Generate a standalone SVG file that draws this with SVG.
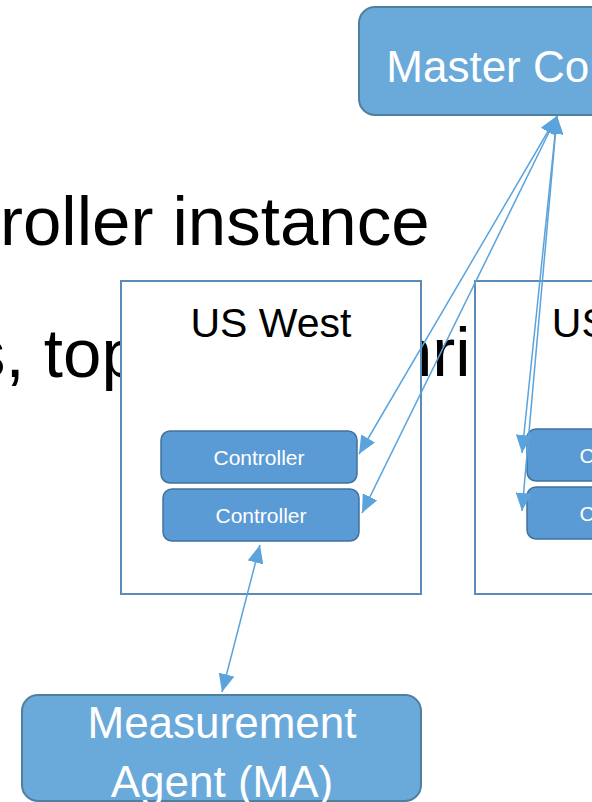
<svg xmlns="http://www.w3.org/2000/svg" width="592" height="802" viewBox="0 0 592 802">
  <style>
    .bg { font-family: "Liberation Sans", Arial, sans-serif; font-size: 69px; fill: #000000; }
    .region { fill: #ffffff; stroke: #5b8bb6; stroke-width: 2; }
    .regionLabel { font-family: "Liberation Sans", Arial, sans-serif; font-size: 41px; fill: #000000; text-anchor: middle; }
    .ctrl { fill: #5b9bd5; stroke: #41719c; stroke-width: 1.5; }
    .ctrlLabel { font-family: "Liberation Sans", Arial, sans-serif; font-size: 21px; fill: #ffffff; text-anchor: middle; }
    .big { fill: #6aaadb; stroke: #50809f; stroke-width: 2; }
    .bigLabel { font-family: "Liberation Sans", Arial, sans-serif; font-size: 44px; fill: #ffffff; text-anchor: middle; }
    .conn { fill: none; stroke: #5ba3dc; stroke-width: 1.5; marker-start: url(#arrow); marker-end: url(#arrow); }
  </style>
  <defs>
    <marker id="arrow" viewBox="0 0 18 16" refX="18" refY="8" markerWidth="18" markerHeight="16" markerUnits="userSpaceOnUse" orient="auto-start-reverse">
      <path d="M0,0 L18,8 L0,16 z" fill="#5ba3dc"/>
    </marker>
    <clipPath id="clipRi">
      <rect x="422" y="300" width="52" height="100"/>
    </clipPath>
  </defs>
  <rect x="0" y="0" width="592" height="802" fill="#ffffff"/>

  <g id="background-text">
    <text class="bg" x="0" y="245">roller instance</text>
    <text class="bg" x="-29" y="377">s, top</text>
    <text class="bg" x="394" y="376" clip-path="url(#clipRi)">nri</text>
  </g>

  <g id="us-west">
    <rect class="region" x="121" y="281" width="300" height="313"/>
    <text class="regionLabel" x="271" y="337">US West</text>
  </g>
  <g id="us-east">
    <rect class="region" x="475" y="281" width="300" height="313"/>
    <text class="regionLabel" x="627" y="337">US East</text>
  </g>

  <g id="west-controller-1">
    <rect class="ctrl" x="161" y="431" width="196" height="52" rx="9"/>
    <text class="ctrlLabel" x="259" y="465">Controller</text>
  </g>
  <g id="west-controller-2">
    <rect class="ctrl" x="163" y="489" width="196" height="52" rx="9"/>
    <text class="ctrlLabel" x="261" y="523">Controller</text>
  </g>
  <g id="east-controller-1">
    <rect class="ctrl" x="527" y="429" width="196" height="52" rx="9"/>
    <text class="ctrlLabel" x="625" y="463">Controller</text>
  </g>
  <g id="east-controller-2">
    <rect class="ctrl" x="527" y="487" width="196" height="52" rx="9"/>
    <text class="ctrlLabel" x="625" y="521">Controller</text>
  </g>

  <g id="master-controller">
    <rect class="big" x="359" y="7" width="397" height="108" rx="16"/>
    <text class="bigLabel" x="555" y="82">Master Controller</text>
  </g>

  <g id="measurement-agent">
    <rect class="big" x="22" y="695" width="399" height="106" rx="16"/>
    <text class="bigLabel" x="222" y="738">Measurement</text>
    <text class="bigLabel" x="222" y="797">Agent (MA)</text>
  </g>

  <g id="connectors">
    <line class="conn" x1="557" y1="116" x2="359" y2="454"/>
    <line class="conn" x1="557" y1="116" x2="362" y2="513"/>
    <line class="conn" x1="557" y1="116" x2="522" y2="453"/>
    <line class="conn" x1="557" y1="116" x2="522" y2="511"/>
    <line class="conn" x1="260" y1="545" x2="222" y2="692"/>
  </g>
</svg>
